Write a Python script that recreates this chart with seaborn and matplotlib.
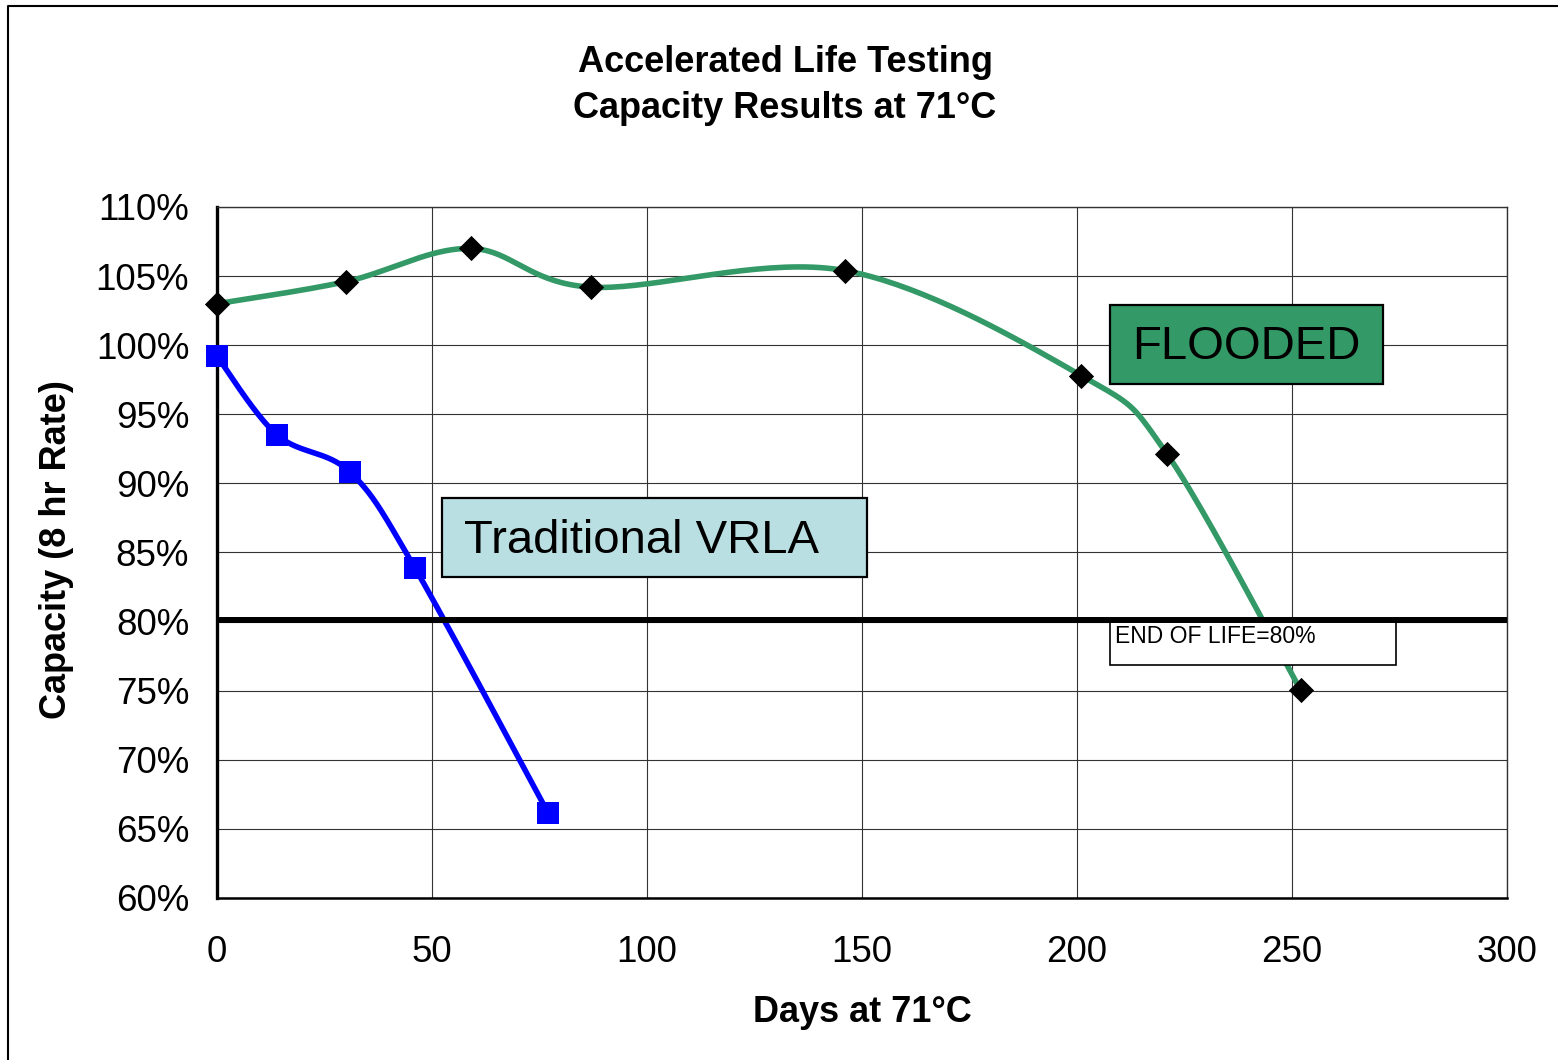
import numpy as np
import matplotlib
matplotlib.use("Agg")
import matplotlib.pyplot as plt
from matplotlib.patches import Rectangle
from matplotlib.lines import Line2D
import seaborn as sns

# data
flooded_days = [0, 30, 59, 87, 146, 201, 221, 252]
flooded_cap = [103.0, 104.6, 107.0, 104.2, 105.4, 97.8, 92.1, 75.05]
vrla_days = [0, 14, 31, 46, 77]
vrla_cap = [99.2, 93.5, 90.8, 83.9, 66.15]
end_of_life = 80
y_ticks = [60, 65, 70, 75, 80, 85, 90, 95, 100, 105, 110]
x_ticks = [0, 50, 100, 150, 200, 250, 300]

GREEN = "#339966"
BLUE = "#0000FF"


def smooth_curve(xs, ys, steps=40):
    """Excel-style smoothed line: cubic Bezier segments with Catmull-Rom tangents."""
    p = np.column_stack([xs, ys]).astype(float)
    p_ext = np.vstack([p[0], p, p[-1]])
    t = np.linspace(0, 1, steps)[:, None]
    out = []
    for i in range(len(p) - 1):
        p0, p1, p2, p3 = p_ext[i], p_ext[i + 1], p_ext[i + 2], p_ext[i + 3]
        c1 = p1 + (p2 - p0) / 6
        c2 = p2 - (p3 - p1) / 6
        seg = ((1 - t) ** 3) * p1 + 3 * ((1 - t) ** 2) * t * c1 + 3 * (1 - t) * t ** 2 * c2 + t ** 3 * p2
        out.append(seg if i == 0 else seg[1:])
    out = np.vstack(out)
    return out[:, 0], out[:, 1]


sns.set_style("white")
plt.rcParams["font.family"] = ["Liberation Sans", "DejaVu Sans"]
plt.rcParams["text.color"] = "black"

fig = plt.figure(figsize=(15.58, 10.60), dpi=100)
ax = fig.add_axes([217 / 1558, 162 / 1060, 1290 / 1558, 691 / 1060])

fx, fy = smooth_curve(flooded_days, flooded_cap)
vx, vy = smooth_curve(vrla_days, vrla_cap)

sns.lineplot(x=fx, y=fy, sort=False, estimator=None, color=GREEN, linewidth=4.0, ax=ax, zorder=2)
sns.lineplot(x=vx, y=vy, sort=False, estimator=None, color=BLUE, linewidth=4.0, ax=ax, zorder=2)
sns.scatterplot(x=flooded_days, y=flooded_cap, marker="D", s=165, color="black", linewidth=0,
                ax=ax, zorder=6, clip_on=False)
sns.scatterplot(x=vrla_days, y=vrla_cap, marker="s", s=256, color=BLUE, linewidth=0,
                ax=ax, zorder=6, clip_on=False)

ax.axhline(end_of_life + 0.1, xmin=0.002, xmax=1, color="black", linewidth=4.3, zorder=5)

# text boxes
ax.add_patch(Rectangle((207.7, 97.19), 63.5, 5.72, facecolor=GREEN, edgecolor="black", linewidth=1.6, zorder=4))
ax.text(239.4, 99.85, "FLOODED", fontsize=34, ha="center", va="center", color="black", zorder=4.5)
ax.add_patch(Rectangle((52.3, 83.23), 98.9, 5.71, facecolor="#B9DFE2", edgecolor="black", linewidth=1.6, zorder=4))
ax.text(98.8, 85.85, "Traditional VRLA", fontsize=34, ha="center", va="center", color="black", zorder=4.5)
ax.add_patch(Rectangle((207.7, 76.86), 66.5, 3.26, facecolor="white", edgecolor="black", linewidth=1.2, zorder=4))
ax.text(208.9, 79.75, "END OF LIFE=80%", fontsize=16.5, ha="left", va="top", color="black", zorder=4.5)

ax.set_xlim(0, 300)
ax.set_ylim(60, 110)
ax.set_xticks(x_ticks)
ax.set_yticks(y_ticks)
ax.set_yticklabels([f"{v}%" for v in y_ticks])
ax.tick_params(axis="both", labelsize=26.5, labelcolor="black", length=8, width=1, direction="out",
               color="#555555")
ax.tick_params(axis="y", pad=12)
ax.tick_params(axis="x", pad=19)
ax.grid(True, color="#333333", linewidth=0.8)
ax.set_axisbelow(True)

for side in ["top", "right"]:
    ax.spines[side].set_color("#333333")
    ax.spines[side].set_linewidth(1.0)
ax.spines["left"].set_color("black")
ax.spines["left"].set_linewidth(2.4)
ax.spines["bottom"].set_color("black")
ax.spines["bottom"].set_linewidth(1.8)
ax.set_xlabel("")
ax.set_ylabel("")

fig.text(785 / 1558, 1 - 63 / 1060, "Accelerated Life Testing", fontsize=26, fontweight="bold",
         ha="center", va="center")
fig.text(785 / 1558, 1 - 108 / 1060, "Capacity Results at 71°C", fontsize=26, fontweight="bold",
         ha="center", va="center")
fig.text(862 / 1558, 1 - 1013 / 1060, "Days at 71°C", fontsize=26, fontweight="bold",
         ha="center", va="center")
fig.text(57 / 1558, 1 - 550 / 1060, "Capacity (8 hr Rate)", fontsize=26, fontweight="bold",
         ha="center", va="center", rotation=90)

# outer chart border (left and top edges visible)
bx, by = 8 / 1558, 1 - 6 / 1060
fig.add_artist(Line2D([bx, bx, 1.0], [0.0, by, by], transform=fig.transFigure, color="black", linewidth=1.5))

fig.savefig("out.png", dpi=100)
